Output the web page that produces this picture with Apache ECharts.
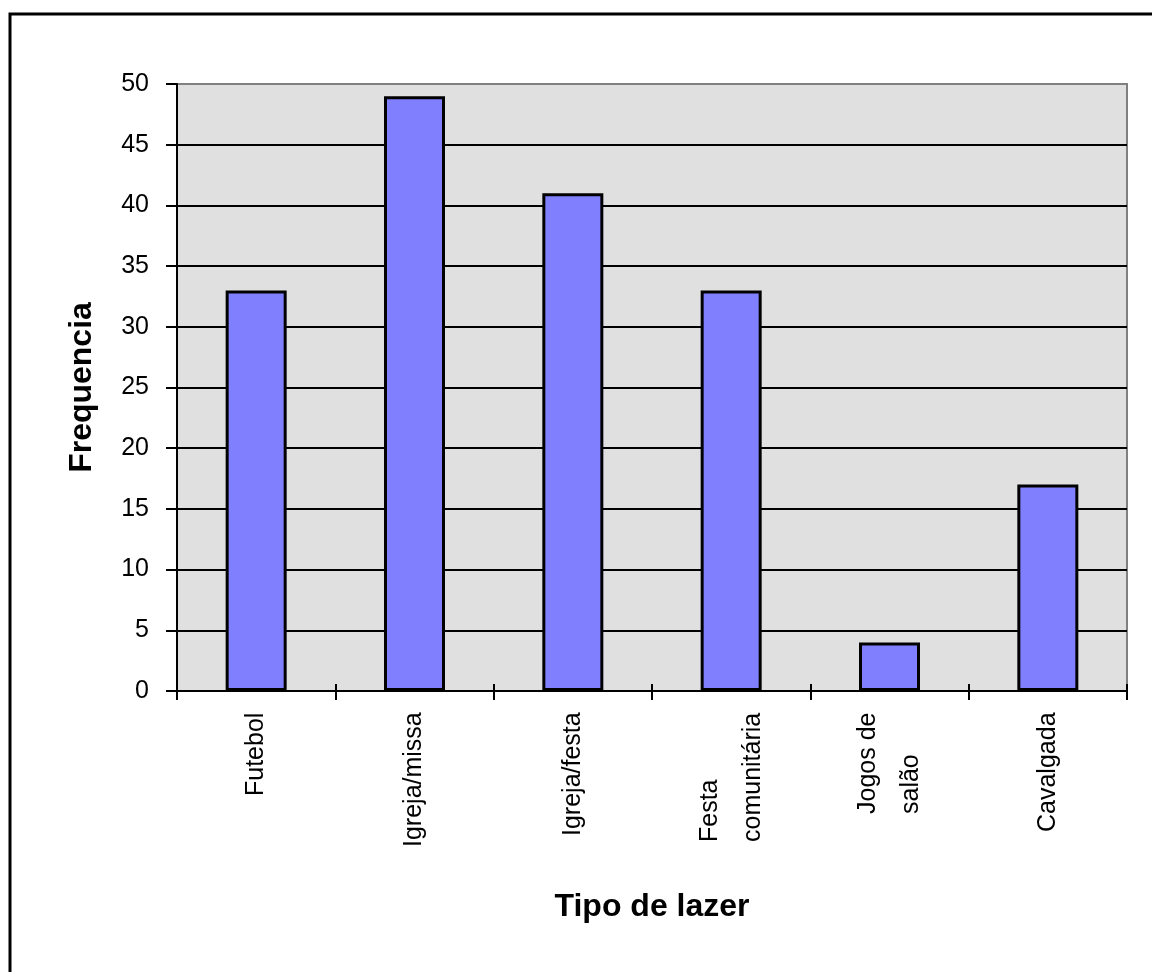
<!DOCTYPE html>
<html>
<head>
<meta charset="utf-8">
<title>Tipo de lazer</title>
<script src="https://cdn.jsdelivr.net/npm/echarts@6/dist/echarts.min.js"></script>
<style>
  html, body { margin: 0; padding: 0; background: #ffffff; }
  #chart { width: 1152px; height: 972px; }
</style>
</head>
<body>
<div id="chart"></div>
<script>
// Leisure activity categories and how often each was named
const categories = ['Futebol', 'Igreja/missa', 'Igreja/festa', 'Festa\ncomunitária', 'Jogos de\nsalão', 'Cavalgada'];
const frequencies = [33, 49, 41, 33, 4, 17];
const yTicks = { min: 0, max: 50, interval: 5 };

const FONT = '"Liberation Sans", Arial, sans-serif';
const LABEL_SIZE = 25;
const chart = echarts.init(document.getElementById('chart'), null, { renderer: 'canvas' });

// split lines: black for every tick, grey for the top edge of the plot
const tickCount = (yTicks.max - yTicks.min) / yTicks.interval + 1;
const splitColors = [];
for (let i = 0; i < tickCount; i++) splitColors.push(i === tickCount - 1 ? '#808080' : '#000000');

// multi-line category labels share a common start: give every line the
// width of the longest one and left-align it inside that box
const measureCtx = document.createElement('canvas').getContext('2d');
measureCtx.font = LABEL_SIZE + 'px ' + FONT;
const labelRich = {};
categories.forEach((c, i) => {
  const w = Math.max(...c.split('\n').map(s => measureCtx.measureText(s).width));
  labelRich['c' + i] = { width: Math.ceil(w) + 1, align: 'left', fontFamily: FONT, fontSize: LABEL_SIZE, color: '#000', lineHeight: 43 };
});

chart.setOption({
  backgroundColor: '#ffffff',
  animation: false,
  graphic: [{
    type: 'rect',
    silent: true,
    shape: { x: 10, y: 14, width: 1300, height: 1100 },
    style: { fill: 'none', stroke: '#000000', lineWidth: 3 }
  }],
  grid: {
    left: 177, right: 25, top: 84, bottom: 281,
    show: true,
    backgroundColor: '#E0E0E0',
    borderColor: '#808080',
    borderWidth: 2
  },
  xAxis: [{
    type: 'category',
    data: categories,
    boundaryGap: true,
    name: 'Tipo de lazer',
    nameLocation: 'middle',
    nameGap: 200,
    nameTextStyle: { fontFamily: FONT, fontSize: 32, fontWeight: 'bold', color: '#000' },
    axisLine: { show: true, lineStyle: { color: '#000', width: 2 } },
    axisTick: { show: true, alignWithLabel: false, length: 9, lineStyle: { color: '#000', width: 2 } },
    axisLabel: {
      rotate: 90, margin: 20, interval: 0,
      fontFamily: FONT, fontSize: LABEL_SIZE, color: '#000', lineHeight: 43,
      formatter: (value, index) => value.split('\n').map(s => '{c' + index + '|' + s + '}').join('\n'),
      rich: labelRich
    },
    splitLine: { show: false }
  }, {
    // inner half of the category ticks
    type: 'category',
    data: categories,
    position: 'bottom',
    boundaryGap: true,
    axisLine: { show: false },
    axisTick: { show: true, inside: true, length: 7, lineStyle: { color: '#000', width: 2 } },
    axisLabel: { show: false },
    splitLine: { show: false }
  }],
  yAxis: {
    type: 'value',
    min: yTicks.min, max: yTicks.max, interval: yTicks.interval,
    name: 'Frequencia',
    nameLocation: 'middle',
    nameGap: 79,
    nameRotate: 90,
    nameTextStyle: { fontFamily: FONT, fontSize: 32, fontWeight: 'bold', color: '#000' },
    axisLine: { show: true, lineStyle: { color: '#000', width: 2 } },
    axisTick: { show: true, length: 11, lineStyle: { color: '#000', width: 2 } },
    axisLabel: { margin: 28, fontFamily: FONT, fontSize: LABEL_SIZE, color: '#000' },
    splitLine: { show: true, lineStyle: { color: splitColors, width: 2 } }
  },
  series: [{
    type: 'bar',
    data: frequencies,
    barWidth: 61,
    itemStyle: { color: '#8080FF', borderColor: '#000000', borderWidth: 3 }
  }]
});
</script>
</body>
</html>
